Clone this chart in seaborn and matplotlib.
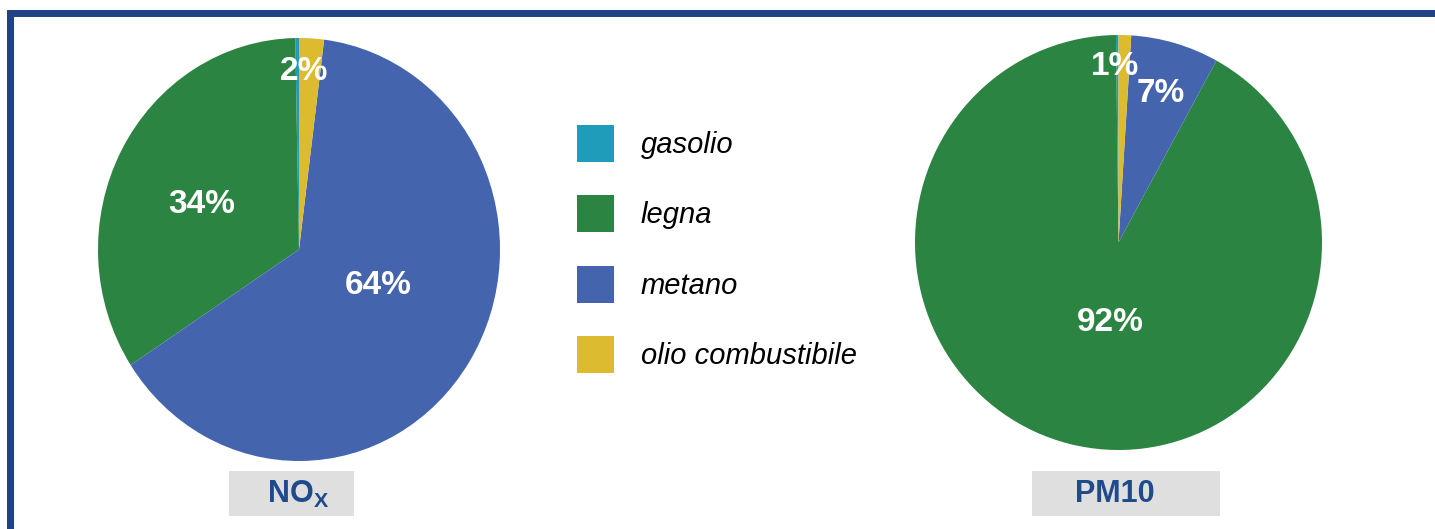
import numpy as np
import matplotlib
matplotlib.use("Agg")
import matplotlib.pyplot as plt
from matplotlib.patches import Patch, Rectangle
import seaborn as sns

# --- data -------------------------------------------------------------
fuels = ["gasolio", "legna", "metano", "olio combustibile"]
nox_share = [0.3, 34.0, 64.0, 2.0]
pm10_share = [0.2, 92.0, 7.0, 1.0]
panel_titles = [r"$\mathbf{NO}_{\mathbf{X}}$", "PM10"]

# --- style ------------------------------------------------------------
sns.set_theme(style="white")
plt.rcParams["font.family"] = ["Liberation Sans", "DejaVu Sans"]
plt.rcParams["mathtext.fontset"] = "custom"
plt.rcParams["mathtext.bf"] = "Liberation Sans:bold"
plt.rcParams["mathtext.rm"] = "Liberation Sans"

palette = sns.color_palette(["#1f9cb9", "#2b8441", "#4464ae", "#dcbb2f"])
frame_blue = "#1f4386"
title_blue = "#1f4a8c"
box_grey = "#dfdfdf"

W, H = 1435, 529
fig = plt.figure(figsize=(W / 100, H / 100), dpi=100)


def px_rect(x0, y0, x1, y1):
    """Figure-fraction rectangle from pixel edges measured from the top-left."""
    return [x0 / W, 1 - y1 / H, (x1 - x0) / W, (y1 - y0) / H]


# label placement per wedge: (radial fraction, angle nudge in degrees)
nox_label_pos = [(0.0, 0.0), (0.53, 4.0), (0.43, 9.0), (0.84, 2.0)]
pm10_label_pos = [(0.0, 0.0), (0.39, 8.0), (0.75, 0.0), (0.85, 3.0)]


def draw_pie(rect, values, label_pos):
    ax = fig.add_axes(px_rect(*rect))
    wedges, _ = ax.pie(values, colors=palette, startangle=90, counterclock=True,
                       radius=1.0, wedgeprops=dict(linewidth=0))
    total = sum(values)
    for w, v, (r, nudge) in zip(wedges, values, label_pos):
        pct = round(100 * v / total)
        if pct < 1:
            continue
        th = np.deg2rad((w.theta1 + w.theta2) / 2 + nudge)
        ax.text(r * np.cos(th), r * np.sin(th), f"{pct}%", ha="center", va="center",
                color="white", fontsize=24, fontweight="bold")
    ax.set_xlim(-1, 1)
    ax.set_ylim(-1, 1)
    ax.set_aspect("auto")
    ax.axis("off")
    return ax


draw_pie((98, 38, 500, 461), nox_share, nox_label_pos)
draw_pie((915, 35, 1322, 450), pm10_share, pm10_label_pos)

# panel captions in grey boxes
for (x0, x1, tx), title in zip([(229, 354, 298), (1032, 1220, 1115)], panel_titles):
    fig.patches.append(Rectangle((x0 / W, 1 - 516 / H), (x1 - x0) / W, 45 / H,
                                 transform=fig.transFigure, facecolor=box_grey,
                                 edgecolor="none"))
    fig.text(tx / W, 1 - 494 / H, title, ha="center", va="center",
             color=title_blue, fontsize=22, fontweight="bold")

# legend
handles = [Patch(facecolor=c, edgecolor="none", label=f) for c, f in zip(palette, fuels)]
fig.legend(handles=handles, loc="center left", bbox_to_anchor=(577 / W, 1 - 249 / H),
           frameon=False, prop=dict(family="Liberation Sans", style="italic", size=21),
           labelcolor="black",
           handlelength=1.27, handleheight=1.57, handletextpad=0.92,
           labelspacing=1.14, borderpad=0, borderaxespad=0)

# dark blue frame along the top and left edges
fig.patches.append(Rectangle((7 / W, 1 - 17 / H), (W - 7) / W, 7 / H,
                             transform=fig.transFigure, facecolor=frame_blue,
                             edgecolor="none"))
fig.patches.append(Rectangle((7 / W, 0), 7 / W, (H - 10) / H,
                             transform=fig.transFigure, facecolor=frame_blue,
                             edgecolor="none"))

fig.savefig("out.png", dpi=100)
